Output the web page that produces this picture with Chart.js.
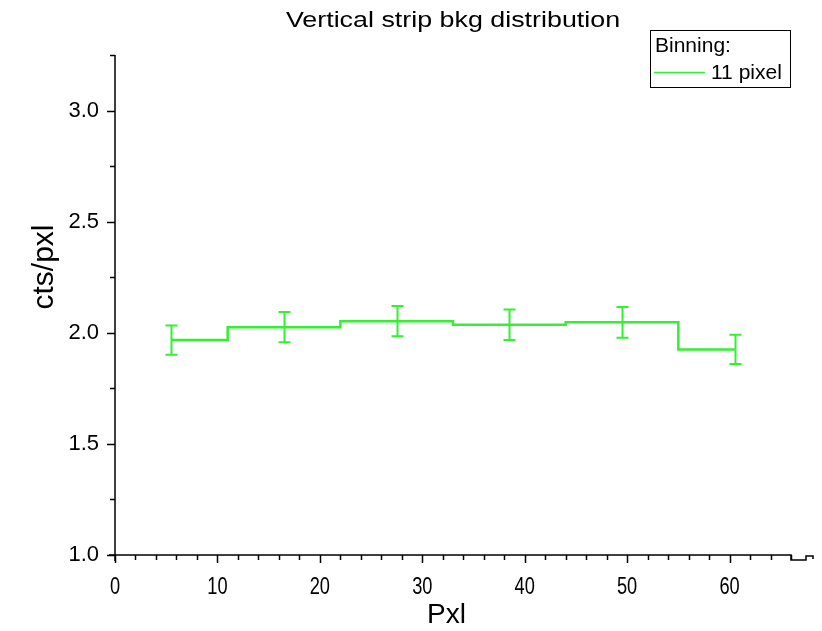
<!DOCTYPE html>
<html lang="en">
<head>
  <meta charset="UTF-8">
  <title>Vertical strip bkg distribution</title>
  <script src="https://cdn.jsdelivr.net/npm/chart.js"></script>
  <style>
    html, body { margin: 0; padding: 0; background: #fff; }
    #wrap { position: relative; width: 822px; height: 631px; }
  </style>
</head>
<body>
  <div id="wrap"><canvas id="chartCanvas"></canvas></div>
  <script>
    // values
    const binCenters = [5.5, 16.5, 27.5, 38.5, 49.5, 60.5];
    const counts = [1.967, 2.025, 2.052, 2.036, 2.047, 1.925];
    const errors = [0.066, 0.068, 0.068, 0.069, 0.069, 0.066];
    const chartTitle = 'Vertical strip bkg distribution';
    const legendTitle = 'Binning:';
    const seriesLabel = '11 pixel';
    const xTitle = 'Pxl';
    const yTitle = 'cts/pxl';
    const lineColor = '#33f033';
    const font = "'Liberation Sans', Arial, sans-serif";

    // error bars, minor/major ticks, tick labels, legend box and titles
    const decor = {
      id: 'decor',
      afterDatasetsDraw(chart) {
        const { ctx, scales: { x, y } } = chart;
        ctx.save();
        ctx.strokeStyle = lineColor;
        ctx.lineWidth = 2;
        binCenters.forEach((c, i) => {
          const px = Math.round(x.getPixelForValue(c)) + 0.5;
          const top = y.getPixelForValue(counts[i] + errors[i]);
          const bot = y.getPixelForValue(counts[i] - errors[i]);
          ctx.beginPath();
          ctx.moveTo(px, top); ctx.lineTo(px, bot);
          ctx.moveTo(px - 6, top); ctx.lineTo(px + 6, top);
          ctx.moveTo(px - 6, bot); ctx.lineTo(px + 6, bot);
          ctx.stroke();
        });
        ctx.restore();
      },
      afterDraw(chart) {
        const { ctx, scales: { x, y } } = chart;
        ctx.save();
        ctx.strokeStyle = '#000';
        ctx.lineWidth = 1.5;
        // axis lines
        ctx.beginPath();
        ctx.moveTo(x.left, y.top); ctx.lineTo(x.left, y.bottom + 6);
        ctx.moveTo(x.left - 6, y.bottom); ctx.lineTo(x.right, y.bottom);
        // axis break mark at the right end
        ctx.lineTo(x.right, y.bottom + 5);
        ctx.lineTo(x.right + 15, y.bottom + 5);
        ctx.lineTo(x.right + 15, y.bottom + 1);
        ctx.lineTo(x.right + 22, y.bottom + 1);
        ctx.lineTo(x.right + 22, y.bottom + 4);
        ctx.stroke();
        // ticks
        ctx.beginPath();
        x.ticks.forEach(t => {
          const px = Math.round(x.getPixelForValue(t.value)) + 0.5;
          const len = t.value % 10 === 0 ? 8 : 5;
          ctx.moveTo(px, y.bottom); ctx.lineTo(px, y.bottom + len);
        });
        y.ticks.forEach(t => {
          const py = Math.round(y.getPixelForValue(t.value)) + 0.5;
          const len = Math.abs(t.value * 2 - Math.round(t.value * 2)) < 1e-6 ? 8 : 5;
          ctx.moveTo(x.left, py); ctx.lineTo(x.left - len, py);
        });
        ctx.stroke();

        ctx.fillStyle = '#000';
        ctx.textBaseline = 'alphabetic';
        // x tick labels, narrow and tall like the reference
        ctx.font = '24px ' + font;
        ctx.textAlign = 'center';
        x.ticks.forEach(t => {
          if (t.value % 10 !== 0) return;
          ctx.save();
          ctx.translate(x.getPixelForValue(t.value), 594);
          ctx.scale(0.76, 1);
          ctx.fillText(String(t.value), 0, 0);
          ctx.restore();
        });

        // chart title, drawn wide like the reference
        ctx.save();
        ctx.font = '22px ' + font;
        ctx.translate((x.left + x.right) / 2, 27);
        ctx.scale(1.22, 1);
        ctx.fillText(chartTitle, 0, 0);
        ctx.restore();

        // axis titles
        ctx.textAlign = 'left';
        ctx.font = '28px ' + font;
        ctx.fillText(xTitle, 427, 623);
        ctx.save();
        ctx.textAlign = 'center';
        ctx.translate(53, 267);
        ctx.rotate(-Math.PI / 2);
        ctx.font = '30px ' + font;
        ctx.fillText(yTitle, 0, 0);
        ctx.restore();

        // legend box
        ctx.lineWidth = 1;
        ctx.strokeStyle = '#000';
        ctx.strokeRect(650.5, 30.5, 140, 57);
        ctx.textAlign = 'left';
        ctx.textBaseline = 'middle';
        ctx.font = '21px ' + font;
        ctx.fillText(legendTitle, 655, 46);
        ctx.fillText(seriesLabel, 711, 73);
        ctx.strokeStyle = lineColor;
        ctx.lineWidth = 1.5;
        ctx.beginPath();
        ctx.moveTo(654, 72.5); ctx.lineTo(705, 72.5);
        ctx.stroke();
        ctx.restore();
      }
    };

    const ctx = document.getElementById('chartCanvas').getContext('2d');
    new Chart(ctx, {
      type: 'line',
      data: {
        datasets: [{
          label: seriesLabel,
          data: binCenters.map((c, i) => ({ x: c, y: counts[i] })),
          borderColor: lineColor,
          borderWidth: 2.5,
          pointRadius: 0,
          stepped: 'middle',
          fill: false
        }]
      },
      options: {
        responsive: true,
        maintainAspectRatio: false,
        animation: false,
        layout: { padding: { left: 0, right: 31, top: 55, bottom: 0 } },
        scales: {
          x: {
            type: 'linear',
            min: 0,
            max: 66,
            border: { display: false },
            grid: { display: false },
            ticks: {
              stepSize: 2,
              includeBounds: false,
              autoSkip: false,
              maxRotation: 0,
              // labels are drawn by the decor plugin
              callback: () => ''
            },
            afterFit: s => { s.height = 76; }
          },
          y: {
            min: 1.0,
            max: 3.25,
            border: { display: false },
            grid: { display: false },
            ticks: {
              stepSize: 0.25,
              autoSkip: false,
              padding: 8,
              color: '#000',
              font: { family: font, size: 22 },
              callback: v => (Math.abs(v * 2 - Math.round(v * 2)) < 1e-6 ? v.toFixed(1) : '')
            },
            afterFit: s => { s.width = 115; }
          }
        },
        plugins: {
          legend: { display: false },
          tooltip: { enabled: false },
          title: { display: false }
        }
      },
      plugins: [decor]
    });
  </script>
</body>
</html>
